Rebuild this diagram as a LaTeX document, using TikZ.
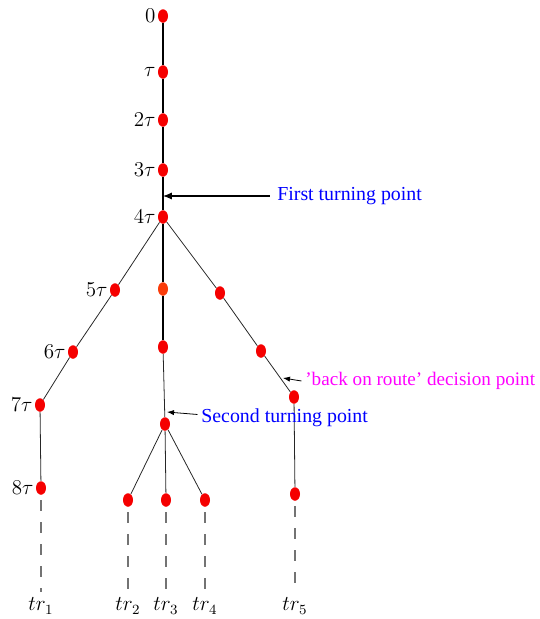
\documentclass[tikz,border=0pt]{standalone}
\usepackage{fontspec}
\usepackage{tikz}
\usetikzlibrary{arrows.meta,shapes.geometric}
\newfontfamily\notefont[Ligatures=TeX]{Liberation Serif}
\definecolor{dotred}{RGB}{245,0,0}
\definecolor{dotorange}{RGB}{250,60,10}
\definecolor{noteblue}{RGB}{0,0,255}
\definecolor{notepink}{RGB}{255,0,255}

\begin{document}
\begin{tikzpicture}[x=0.02cm, y=-0.02cm, every label/.style={font=\large, inner sep=1pt},
  dot/.style={ellipse, fill=dotred, inner sep=0pt, minimum width=0.2cm, minimum height=0.27cm},
  branch/.style={draw=black!85, line width=0.45pt},
  trail/.style={draw=black!55, line width=0.6pt, dash pattern=on 6pt off 6.5pt, shorten <=3pt, shorten >=2pt},
  note/.style={font=\notefont\fontsize{11.3}{13}\selectfont, anchor=west, inner sep=0pt},
  pointer/.style={-{Latex[length=4pt,width=3pt]}, line width=0.45pt}]
\useasboundingbox (0,0) rectangle (540,619);
% Trunk
\foreach \n/\y/\l in {t0/16/0, t1/72/\tau, t2/120/2\tau, t3/170/3\tau, t4/217/4\tau}
  \node[dot, label=left:$\l$] (\n) at (163,\y) {};
\draw[line width=0.7pt] (t0) -- (t1) -- (t2) -- (t3) -- (t4);
% Left branch
\foreach \n/\x/\y/\l in {l5/115/290/5\tau, l6/73/352/6\tau, l7/40/405/7\tau, l8/41/488/8\tau}
  \node[dot, label=left:$\l$] (\n) at (\x,\y) {};
\draw[branch] (t4) -- (l5) -- (l6) -- (l7) -- (l8);
% Middle branch
\node[dot, fill=dotorange] (m5) at (163,289) {};
\node[dot] (m6) at (163,347) {};
\node[dot] (m7) at (165,424) {};
\draw[line width=0.6pt] (t4) -- (m5) -- (m6);
\draw[branch] (m6) -- (m7);
\node[dot] (a) at (128,500) {};
\node[dot] (b) at (166,500) {};
\node[dot] (c) at (205,500) {};
\draw[branch] (m7) -- (a) (m7) -- (b) (m7) -- (c);
% Right branch
\node[dot] (r5) at (220,293) {};
\node[dot] (r6) at (261,351) {};
\node[dot] (r7) at (294,397) {};
\node[dot] (r8) at (295,494) {};
\draw[branch] (t4) -- (r5) -- (r6) -- (r7) -- (r8);
% Trajectories
\foreach \n/\x/\s in {tr1/41/1, tr2/128/2, tr3/166/3, tr4/205/4, tr5/295/5}
  \node[font=\large, inner sep=1pt] (\n) at (\x,606) {$tr_{\s}$};
\draw[trail] (l8) -- (tr1);
\draw[trail] (a) -- (tr2);
\draw[trail] (b) -- (tr3);
\draw[trail] (c) -- (tr4);
\draw[trail] (r8) -- (tr5);
% Annotations
\coordinate (tp1) at (163,196);
\coordinate (tp2) at (167,412);
\coordinate (back) at (283,378);
\node[note, text=noteblue] (first) at (277,196) {First turning point};
\node[note, text=noteblue] (second) at (201,418) {Second turning point};
\node[note, text=notepink, font=\notefont\fontsize{10.9}{13}\selectfont] (decision) at (305,381) {'back on route' decision point};
\draw[-{Latex[length=5pt,width=4pt]}, line width=0.6pt] ([xshift=-4pt]first.west) -- (tp1);
\draw[pointer] ([xshift=-2pt,yshift=2pt]second.west) -- (tp2);
\draw[pointer] ([xshift=-2pt]decision.west) -- (back);
\end{tikzpicture}
\end{document}
